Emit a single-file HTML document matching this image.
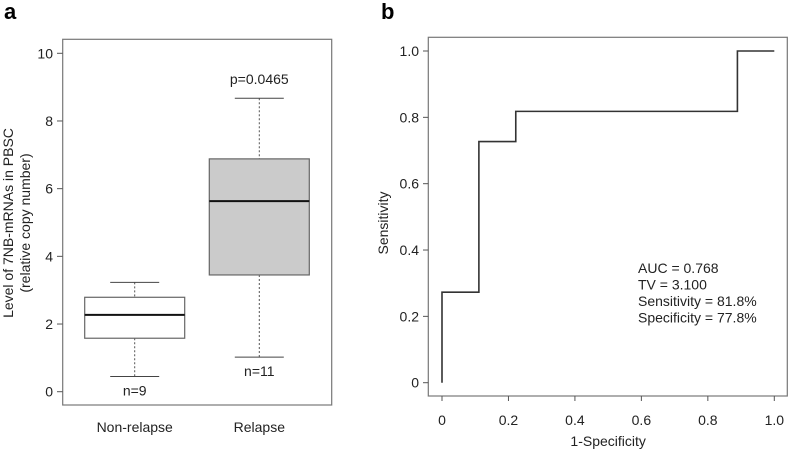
<!DOCTYPE html>
<html><head><meta charset="utf-8"><style>
body{margin:0;background:#fff}
svg{display:block;font-family:"Liberation Sans",Arial,sans-serif}
</style></head><body>
<svg id="s" width="790" height="450" viewBox="0 0 790 450">
<text x="4" y="19" font-size="22" font-weight="bold">a</text>
<text x="381" y="19" font-size="22" font-weight="bold">b</text>
<g id="pa"></g>
<g id="pb"></g>
</svg>
<script>
const NS="http://www.w3.org/2000/svg";
function mk(p,t,a,txt){const e=document.createElementNS(NS,t);for(const k in a)e.setAttribute(k,a[k]);if(txt!==undefined)e.textContent=txt;p.appendChild(e);return e;}
// Box plot data
const categories=["Non-relapse","Relapse"];
const mins=[0.45,1.02];
const q1s=[1.58,3.45];
const medians=[2.27,5.63];
const q3s=[2.79,6.88];
const maxs=[3.23,8.67];
const nLabels=["n=9","n=11"];
const yTicksA=[0,2,4,6,8,10];
// ROC data
const rocX=[0,0,0.111,0.111,0.222,0.222,0.889,0.889,1];
const rocY=[0,0.273,0.273,0.727,0.727,0.818,0.818,1,1];
const rocTicks=[0,0.2,0.4,0.6,0.8,1.0];
const rocTickLabels=["0","0.2","0.4","0.6","0.8","1.0"];

const pa=document.getElementById('pa');
const ya=v=>391.7-v*33.84;
const xa=i=>134.7+i*124.6;
let e=mk(pa,'rect',{x:62.7,y:39.3,width:269,height:365.7,fill:'none',stroke:'#777','stroke-width':1.2});


yTicksA.forEach(v=>{
 let t=mk(pa,'line',{x1:57,x2:62.7,y1:ya(v),y2:ya(v),stroke:'#555'});
 
 
 let l=mk(pa,'text',{x:53,y:ya(v)+5,'font-size':14,'text-anchor':'end',fill:'#222'},String(v));
 
 
});
categories.forEach((c,i)=>{
 const cx=xa(i),hw=50,cw=24.5;
 const g=mk(pa,'g',{});
 
 
 mk(g,'line',{x1:cx,x2:cx,y1:ya(maxs[i]),y2:ya(q3s[i]),stroke:'#555','stroke-dasharray':'2,2'});
 mk(g,'line',{x1:cx,x2:cx,y1:ya(q1s[i]),y2:ya(mins[i]),stroke:'#555','stroke-dasharray':'2,2'});
 mk(g,'line',{x1:cx-cw,x2:cx+cw,y1:ya(maxs[i]),y2:ya(maxs[i]),stroke:'#444'});
 mk(g,'line',{x1:cx-cw,x2:cx+cw,y1:ya(mins[i]),y2:ya(mins[i]),stroke:'#444'});
 mk(g,'rect',{x:cx-hw,y:ya(q3s[i]),width:2*hw,height:ya(q1s[i])-ya(q3s[i]),fill:i?'#cbcbcb':'#fff',stroke:'#666','stroke-width':1.2});
 mk(g,'line',{x1:cx-hw,x2:cx+hw,y1:ya(medians[i]),y2:ya(medians[i]),stroke:'#111','stroke-width':2});
 let n=mk(pa,'text',{x:cx,y:ya(mins[i])+19,'font-size':14,'text-anchor':'middle',fill:'#222'},nLabels[i]);
 
 
 let cl=mk(pa,'text',{x:cx,y:432,'font-size':14,'text-anchor':'middle',fill:'#222'},c);
 
 
});
e=mk(pa,'text',{x:xa(1),y:84,'font-size':14,'text-anchor':'middle',fill:'#222'},'p=0.0465');


e=mk(pa,'text',{transform:'translate(13,223) rotate(-90)','font-size':14,'text-anchor':'middle',fill:'#222'},'Level of 7NB-mRNAs in PBSC');


e=mk(pa,'text',{transform:'translate(30,223) rotate(-90)','font-size':14,'text-anchor':'middle',fill:'#222'},'(relative copy number)');



const pb=document.getElementById('pb');
const xb=v=>442+v*332.3;
const yb=v=>382.7-v*331.7;
e=mk(pb,'rect',{x:428.3,y:37.3,width:359,height:358.7,fill:'none',stroke:'#777','stroke-width':1.2});


rocTicks.forEach((v,i)=>{
 let t=mk(pb,'line',{x1:xb(v),x2:xb(v),y1:396,y2:401,stroke:'#555'});
 
 
 let l=mk(pb,'text',{x:xb(v),y:425,'font-size':14,'text-anchor':'middle',fill:'#222'},rocTickLabels[i]);
 
 
 t=mk(pb,'line',{x1:423,x2:428.3,y1:yb(v),y2:yb(v),stroke:'#555'});
 
 
 l=mk(pb,'text',{x:419,y:yb(v)+5,'font-size':14,'text-anchor':'end',fill:'#222'},rocTickLabels[i]);
 
 
});
e=mk(pb,'polyline',{points:rocX.map((x,i)=>xb(x)+','+yb(rocY[i])).join(' '),fill:'none',stroke:'#333','stroke-width':1.6});


e=mk(pb,'text',{x:xb(0.5),y:446,'font-size':14,'text-anchor':'middle',fill:'#222'},'1-Specificity');


e=mk(pb,'text',{transform:'translate(388,223) rotate(-90)','font-size':14,'text-anchor':'middle',fill:'#222'},'Sensitivity');


["AUC = 0.768","TV = 3.100","Sensitivity = 81.8%","Specificity = 77.8%"].forEach((s,i)=>{
 let t=mk(pb,'text',{x:638,y:273+i*16.5,'font-size':14,fill:'#222'},s);
 
 
});
</script>
</body></html>
